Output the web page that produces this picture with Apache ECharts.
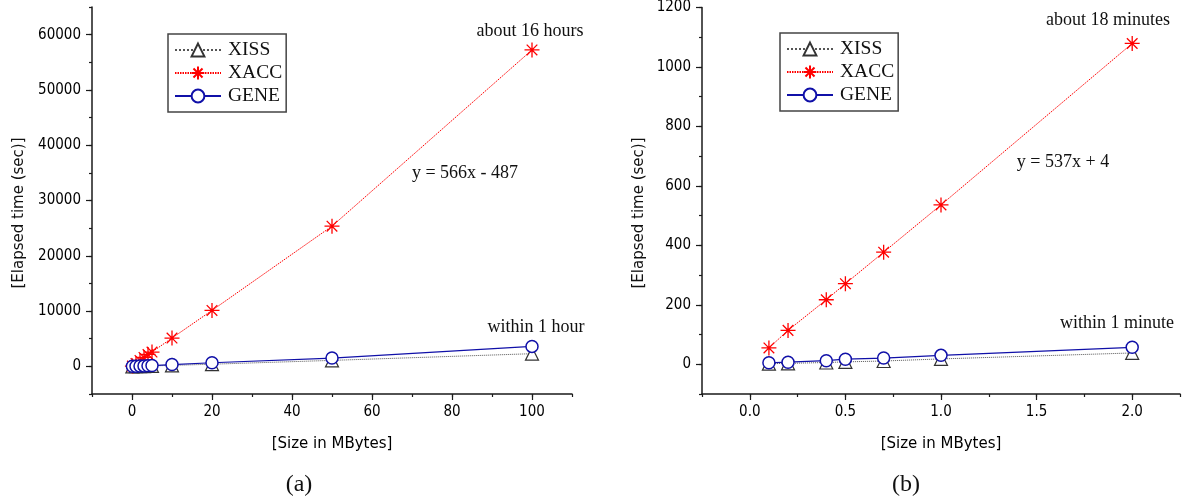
<!DOCTYPE html>
<html>
<head>
<meta charset="utf-8">
<script src="https://cdn.jsdelivr.net/npm/echarts@6/dist/echarts.min.js"></script>
<style>
html,body{margin:0;padding:0;background:#fff;}
#chart{width:1182px;height:502px;}
</style>
</head>
<body>
<div id="chart"></div>
<script>
// ---- data (a): large files ----
const sizesA = [0.1, 1, 2, 3, 4, 5, 10, 20, 50, 100];
const xissA  = [2, 18, 36, 55, 72, 90, 180, 390, 1080, 2290];
const xaccA  = [55, 536, 1079, 1620, 2150, 2590, 5120, 10120, 25360, 57230];
const geneA  = [5, 30, 57, 85, 115, 140, 330, 650, 1500, 3610];
// ---- data (b): small files ----
const sizesB = [0.1, 0.2, 0.4, 0.5, 0.7, 1.0, 2.0];
const xissB  = [2, 3, 6, 8, 11, 18, 38];
const xaccB  = [55, 114, 217, 271, 377, 536, 1079];
const geneB  = [5, 7, 12, 17, 21, 30, 57];
// ---- tick labels ----
const xTicksA = [0, 20, 40, 60, 80, 100];
const yTicksA = [0, 10000, 20000, 30000, 40000, 50000, 60000];
const xTicksB = [0, 0.5, 1.0, 1.5, 2.0];
const yTicksB = [0, 200, 400, 600, 800, 1000, 1200];
const seriesNames = ['XISS', 'XACC', 'GENE'];

const pairs = (xs, ys) => xs.map((x, i) => [x, ys[i]]);
const ASTERISK = 'path://M10,0L10,20M0,10L20,10M2.93,2.93L17.07,17.07M2.93,17.07L17.07,2.93';
const tickFont = {fontFamily: '"DejaVu Sans Condensed", "DejaVu Sans", sans-serif', fontSize: 15, color: '#000'};
const axisLineStyle = {color: '#1a1a1a', width: 1.5};

function majorAxis(grid, min, max, interval, ticks, fmt, extra) {
  return Object.assign({
    type: 'value', gridIndex: grid, min: min, max: max, interval: interval,
    axisLine: {show: true, onZero: false, lineStyle: axisLineStyle},
    axisTick: {show: true, inside: false, length: 6, customValues: ticks, lineStyle: {color: '#1a1a1a', width: 1.2}},
    axisLabel: {show: true, customValues: ticks, formatter: fmt, margin: 11, ...tickFont},
    splitLine: {show: false}
  }, extra || {});
}
function minorAxis(grid, min, max, interval, extra) {
  return Object.assign({
    type: 'value', gridIndex: grid, min: min, max: max, interval: interval,
    axisLine: {show: false, onZero: false},
    axisTick: {show: true, inside: false, length: 3, lineStyle: {color: '#1a1a1a', width: 1.2}},
    axisLabel: {show: false},
    splitLine: {show: false}
  }, extra || {});
}

function makeSeries(grid, xAxisIndex, yAxisIndex, xs, xiss, xacc, gene) {
  return [
    {
      name: 'XISS', type: 'line', xAxisIndex, yAxisIndex, data: pairs(xs, xiss),
      symbol: 'triangle', symbolSize: 13,
      lineStyle: {color: '#555', width: 1, type: 'dotted'},
      itemStyle: {color: '#fff', borderColor: '#333', borderWidth: 1.2},
      z: 2
    },
    {
      name: 'XACC', type: 'line', xAxisIndex, yAxisIndex, data: pairs(xs, xacc),
      symbol: ASTERISK, symbolSize: 15,
      lineStyle: {color: '#ff0000', width: 1, type: [1.5, 1]},
      itemStyle: {color: '#ff0000', borderColor: '#ff0000', borderWidth: 1.3},
      z: 3
    },
    {
      name: 'GENE', type: 'line', xAxisIndex, yAxisIndex, data: pairs(xs, gene),
      symbol: 'circle', symbolSize: 12,
      lineStyle: {color: '#1010a8', width: 1.2, type: 'solid'},
      itemStyle: {color: '#fff', borderColor: '#1010a8', borderWidth: 1.5},
      z: 4
    }
  ];
}

const serif = '"Liberation Serif", "DejaVu Serif", serif';
function txt(x, y, text, size, rot, family) {
  return {
    type: 'text', x: x, y: y, rotation: rot || 0, silent: true,
    style: {
      text: text, fill: '#111',
      font: size + 'px ' + (family || serif),
      textAlign: 'center', textVerticalAlign: 'middle',
      align: 'center', verticalAlign: 'middle'
    }
  };
}

const legendBase = {
  orient: 'vertical', data: seriesNames,
  itemWidth: 46, itemHeight: 16, itemGap: 3,
  padding: [6, 4, 6, 6],
  backgroundColor: '#fff',
  borderColor: '#444', borderWidth: 1.5,
  textStyle: {fontFamily: serif, fontSize: 19.5, color: '#111', padding: [0, 0, 0, 2]},
  selectedMode: false
};

const option = {
  animation: false,
  backgroundColor: '#fff',
  grid: [
    {left: 92, top: 7, width: 480, height: 387, containLabel: false},
    {left: 702, top: 7, width: 478, height: 387, containLabel: false}
  ],
  legend: [
    Object.assign({}, legendBase, {left: 168, top: 34}),
    Object.assign({}, legendBase, {left: 780, top: 33})
  ],
  xAxis: [
    majorAxis(0, -10, 110, 10, xTicksA, v => String(v), {
      position: 'bottom', name: '[Size in MBytes]', nameLocation: 'middle', nameGap: 43,
      nameTextStyle: {fontFamily: '"DejaVu Sans", sans-serif', fontSize: 15, color: '#000'}
    }),
    minorAxis(0, -10, 110, 10, {position: 'bottom'}),
    majorAxis(1, -0.25, 2.25, 0.25, xTicksB, v => Number(v).toFixed(1), {
      position: 'bottom', name: '[Size in MBytes]', nameLocation: 'middle', nameGap: 43,
      nameTextStyle: {fontFamily: '"DejaVu Sans", sans-serif', fontSize: 15, color: '#000'}
    }),
    minorAxis(1, -0.25, 2.25, 0.25, {position: 'bottom'})
  ],
  yAxis: [
    majorAxis(0, -5000, 65000, 5000, yTicksA, v => String(v), {position: 'left'}),
    minorAxis(0, -5000, 65000, 5000, {position: 'left'}),
    majorAxis(1, -100, 1200, 100, yTicksB, v => String(v), {position: 'left'}),
    minorAxis(1, -100, 1200, 100, {position: 'left'})
  ],
  series: [].concat(
    makeSeries(0, 0, 0, sizesA, xissA, xaccA, geneA),
    makeSeries(1, 2, 2, sizesB, xissB, xaccB, geneB)
  ),
  graphic: [
    txt(19, 213, '[Elapsed time (sec)]', 15, Math.PI / 2, '"DejaVu Sans", sans-serif'),
    txt(639, 213, '[Elapsed time (sec)]', 15, Math.PI / 2, '"DejaVu Sans", sans-serif'),
    txt(530, 31, 'about 16 hours', 18),
    txt(465, 173, 'y = 566x - 487', 18),
    txt(536, 327, 'within 1 hour', 18),
    txt(299, 485, '(a)', 24),
    txt(1108, 20, 'about 18 minutes', 18),
    txt(1063, 162, 'y = 537x + 4', 18),
    txt(1117, 323, 'within 1 minute', 18),
    txt(906, 485, '(b)', 24)
  ]
};

const chart = echarts.init(document.getElementById('chart'), null, {renderer: 'canvas'});
chart.setOption(option);
</script>
</body>
</html>
